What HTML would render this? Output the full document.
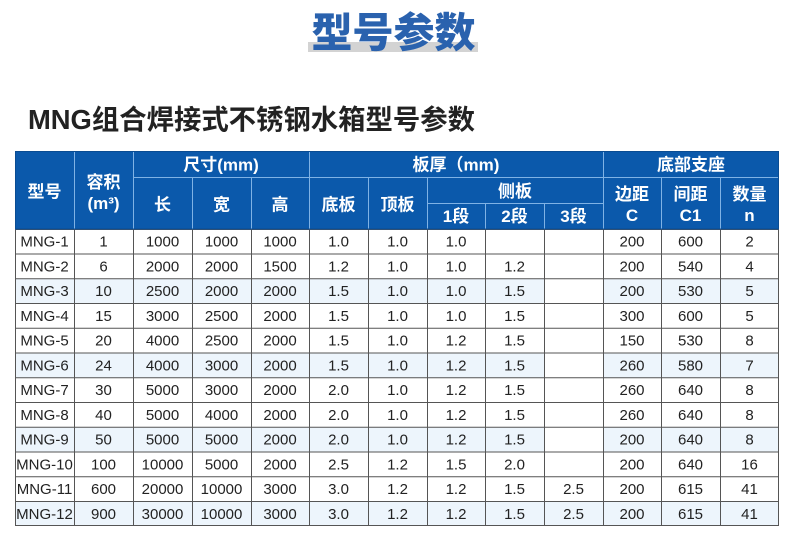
<!DOCTYPE html>
<html><head><meta charset="utf-8"><style>
html,body{margin:0;padding:0;background:#fff;}
svg{display:block;}
.h{font-family:"Liberation Sans","Noto Sans CJK SC",sans-serif;font-weight:bold;font-size:17px;fill:#fff;text-anchor:middle;}
.b text{font-family:"Liberation Sans","Noto Sans CJK SC",sans-serif;font-size:15px;fill:#222;text-anchor:middle;}
</style></head><body>
<svg width="790" height="551" viewBox="0 0 790 551" xmlns="http://www.w3.org/2000/svg">
<rect width="790" height="551" fill="#fff"/>
<!-- top title -->
<rect x="308" y="42" width="170" height="10" fill="#d3d3d3"/>
<text x="393.5" y="47" font-family="'Noto Sans CJK SC',sans-serif" font-weight="900" font-size="41" fill="#2a62ae" text-anchor="middle" textLength="164" lengthAdjust="spacingAndGlyphs">型号参数</text>
<!-- subtitle -->
<text x="28" y="129" font-family="'Liberation Sans','Noto Sans CJK SC',sans-serif" font-weight="bold" font-size="27.5" fill="#222" textLength="447" lengthAdjust="spacingAndGlyphs">MNG组合焊接式不锈钢水箱型号参数</text>

<!-- header bg -->
<rect x="15" y="151" width="764" height="78" fill="#0b59ab"/>
<!-- stripes -->
<g fill="#edf5fc">
<rect x="15" y="278.5" width="529" height="24.75"/><rect x="603" y="278.5" width="176" height="24.75"/>
<rect x="15" y="352.75" width="529" height="24.75"/><rect x="603" y="352.75" width="176" height="24.75"/>
<rect x="15" y="427" width="529" height="24.75"/><rect x="603" y="427" width="176" height="24.75"/>
<rect x="15" y="501.25" width="764" height="24.75"/>
</g>
<!-- header light lines -->
<g stroke="#7fb2e5" stroke-width="1">
<line x1="74.5" y1="151" x2="74.5" y2="229"/>
<line x1="133.5" y1="151" x2="133.5" y2="229"/>
<line x1="192.5" y1="177" x2="192.5" y2="229"/>
<line x1="251.5" y1="177" x2="251.5" y2="229"/>
<line x1="309.5" y1="151" x2="309.5" y2="229"/>
<line x1="368.5" y1="177" x2="368.5" y2="229"/>
<line x1="427.5" y1="177" x2="427.5" y2="229"/>
<line x1="485.5" y1="203" x2="485.5" y2="229"/>
<line x1="544.5" y1="203" x2="544.5" y2="229"/>
<line x1="603.5" y1="151" x2="603.5" y2="229"/>
<line x1="661.5" y1="177" x2="661.5" y2="229"/>
<line x1="720.5" y1="177" x2="720.5" y2="229"/>
<line x1="133" y1="177.5" x2="779" y2="177.5"/>
<line x1="427" y1="203.5" x2="603" y2="203.5"/>
</g>
<!-- body lines -->
<g stroke="#555" stroke-width="1">
<line x1="15" y1="229.5" x2="779" y2="229.5"/>
<line x1="15" y1="254" x2="779" y2="254"/>
<line x1="15" y1="278.75" x2="779" y2="278.75"/>
<line x1="15" y1="303.5" x2="779" y2="303.5"/>
<line x1="15" y1="328.25" x2="779" y2="328.25"/>
<line x1="15" y1="353" x2="779" y2="353"/>
<line x1="15" y1="377.75" x2="779" y2="377.75"/>
<line x1="15" y1="402.5" x2="779" y2="402.5"/>
<line x1="15" y1="427.25" x2="779" y2="427.25"/>
<line x1="15" y1="452" x2="779" y2="452"/>
<line x1="15" y1="476.75" x2="779" y2="476.75"/>
<line x1="15" y1="501.5" x2="779" y2="501.5"/>
<line x1="15" y1="525.5" x2="779" y2="525.5"/>
<line x1="15.5" y1="229" x2="15.5" y2="526"/>
<line x1="74.5" y1="229" x2="74.5" y2="526"/>
<line x1="133.5" y1="229" x2="133.5" y2="526"/>
<line x1="192.5" y1="229" x2="192.5" y2="526"/>
<line x1="251.5" y1="229" x2="251.5" y2="526"/>
<line x1="309.5" y1="229" x2="309.5" y2="526"/>
<line x1="368.5" y1="229" x2="368.5" y2="526"/>
<line x1="427.5" y1="229" x2="427.5" y2="526"/>
<line x1="485.5" y1="229" x2="485.5" y2="526"/>
<line x1="544.5" y1="229" x2="544.5" y2="526"/>
<line x1="603.5" y1="229" x2="603.5" y2="526"/>
<line x1="661.5" y1="229" x2="661.5" y2="526"/>
<line x1="720.5" y1="229" x2="720.5" y2="526"/>
<line x1="778.5" y1="229" x2="778.5" y2="526"/>
</g>
<rect x="15.5" y="151.5" width="763" height="77.5" fill="none" stroke="#0a4c92" stroke-width="1"/>

<!-- header text -->
<text class="h" x="44.5" y="197.5">型号</text>
<text class="h" x="103.5" y="188">容积</text>
<text class="h" x="103.5" y="209">(m³)</text>
<text class="h" x="221" y="170.5">尺寸(mm)</text>
<text class="h" x="456" y="170.5">板厚（mm)</text>
<text class="h" x="691" y="170.5">底部支座</text>
<text class="h" x="162.5" y="210.5">长</text>
<text class="h" x="221.5" y="210.5">宽</text>
<text class="h" x="280" y="210.5">高</text>
<text class="h" x="338.5" y="210.5">底板</text>
<text class="h" x="397.5" y="210.5">顶板</text>
<text class="h" x="515" y="197">侧板</text>
<text class="h" x="456" y="222">1段</text>
<text class="h" x="514.5" y="222">2段</text>
<text class="h" x="573.5" y="222">3段</text>
<text class="h" x="632" y="200">边距</text>
<text class="h" x="632" y="221">C</text>
<text class="h" x="690.5" y="200">间距</text>
<text class="h" x="690.5" y="221">C1</text>
<text class="h" x="749.5" y="200">数量</text>
<text class="h" x="749.5" y="221">n</text>

<!-- body -->
<g class="b">
<g transform="translate(0,246.7)"><text x="44.5">MNG-1</text><text x="103.5">1</text><text x="162.5">1000</text><text x="221.5">1000</text><text x="280">1000</text><text x="338.5">1.0</text><text x="397.5">1.0</text><text x="456">1.0</text><text x="632">200</text><text x="690.5">600</text><text x="749.5">2</text></g>
<g transform="translate(0,271.4)"><text x="44.5">MNG-2</text><text x="103.5">6</text><text x="162.5">2000</text><text x="221.5">2000</text><text x="280">1500</text><text x="338.5">1.2</text><text x="397.5">1.0</text><text x="456">1.0</text><text x="514.5">1.2</text><text x="632">200</text><text x="690.5">540</text><text x="749.5">4</text></g>
<g transform="translate(0,296.2)"><text x="44.5">MNG-3</text><text x="103.5">10</text><text x="162.5">2500</text><text x="221.5">2000</text><text x="280">2000</text><text x="338.5">1.5</text><text x="397.5">1.0</text><text x="456">1.0</text><text x="514.5">1.5</text><text x="632">200</text><text x="690.5">530</text><text x="749.5">5</text></g>
<g transform="translate(0,320.9)"><text x="44.5">MNG-4</text><text x="103.5">15</text><text x="162.5">3000</text><text x="221.5">2500</text><text x="280">2000</text><text x="338.5">1.5</text><text x="397.5">1.0</text><text x="456">1.0</text><text x="514.5">1.5</text><text x="632">300</text><text x="690.5">600</text><text x="749.5">5</text></g>
<g transform="translate(0,345.7)"><text x="44.5">MNG-5</text><text x="103.5">20</text><text x="162.5">4000</text><text x="221.5">2500</text><text x="280">2000</text><text x="338.5">1.5</text><text x="397.5">1.0</text><text x="456">1.2</text><text x="514.5">1.5</text><text x="632">150</text><text x="690.5">530</text><text x="749.5">8</text></g>
<g transform="translate(0,370.4)"><text x="44.5">MNG-6</text><text x="103.5">24</text><text x="162.5">4000</text><text x="221.5">3000</text><text x="280">2000</text><text x="338.5">1.5</text><text x="397.5">1.0</text><text x="456">1.2</text><text x="514.5">1.5</text><text x="632">260</text><text x="690.5">580</text><text x="749.5">7</text></g>
<g transform="translate(0,395.2)"><text x="44.5">MNG-7</text><text x="103.5">30</text><text x="162.5">5000</text><text x="221.5">3000</text><text x="280">2000</text><text x="338.5">2.0</text><text x="397.5">1.0</text><text x="456">1.2</text><text x="514.5">1.5</text><text x="632">260</text><text x="690.5">640</text><text x="749.5">8</text></g>
<g transform="translate(0,419.9)"><text x="44.5">MNG-8</text><text x="103.5">40</text><text x="162.5">5000</text><text x="221.5">4000</text><text x="280">2000</text><text x="338.5">2.0</text><text x="397.5">1.0</text><text x="456">1.2</text><text x="514.5">1.5</text><text x="632">260</text><text x="690.5">640</text><text x="749.5">8</text></g>
<g transform="translate(0,444.7)"><text x="44.5">MNG-9</text><text x="103.5">50</text><text x="162.5">5000</text><text x="221.5">5000</text><text x="280">2000</text><text x="338.5">2.0</text><text x="397.5">1.0</text><text x="456">1.2</text><text x="514.5">1.5</text><text x="632">200</text><text x="690.5">640</text><text x="749.5">8</text></g>
<g transform="translate(0,469.4)"><text x="44.5">MNG-10</text><text x="103.5">100</text><text x="162.5">10000</text><text x="221.5">5000</text><text x="280">2000</text><text x="338.5">2.5</text><text x="397.5">1.2</text><text x="456">1.5</text><text x="514.5">2.0</text><text x="632">200</text><text x="690.5">640</text><text x="749.5">16</text></g>
<g transform="translate(0,494.2)"><text x="44.5">MNG-11</text><text x="103.5">600</text><text x="162.5">20000</text><text x="221.5">10000</text><text x="280">3000</text><text x="338.5">3.0</text><text x="397.5">1.2</text><text x="456">1.2</text><text x="514.5">1.5</text><text x="573.5">2.5</text><text x="632">200</text><text x="690.5">615</text><text x="749.5">41</text></g>
<g transform="translate(0,518.9)"><text x="44.5">MNG-12</text><text x="103.5">900</text><text x="162.5">30000</text><text x="221.5">10000</text><text x="280">3000</text><text x="338.5">3.0</text><text x="397.5">1.2</text><text x="456">1.2</text><text x="514.5">1.5</text><text x="573.5">2.5</text><text x="632">200</text><text x="690.5">615</text><text x="749.5">41</text></g>
</g>
</svg>
</body></html>
